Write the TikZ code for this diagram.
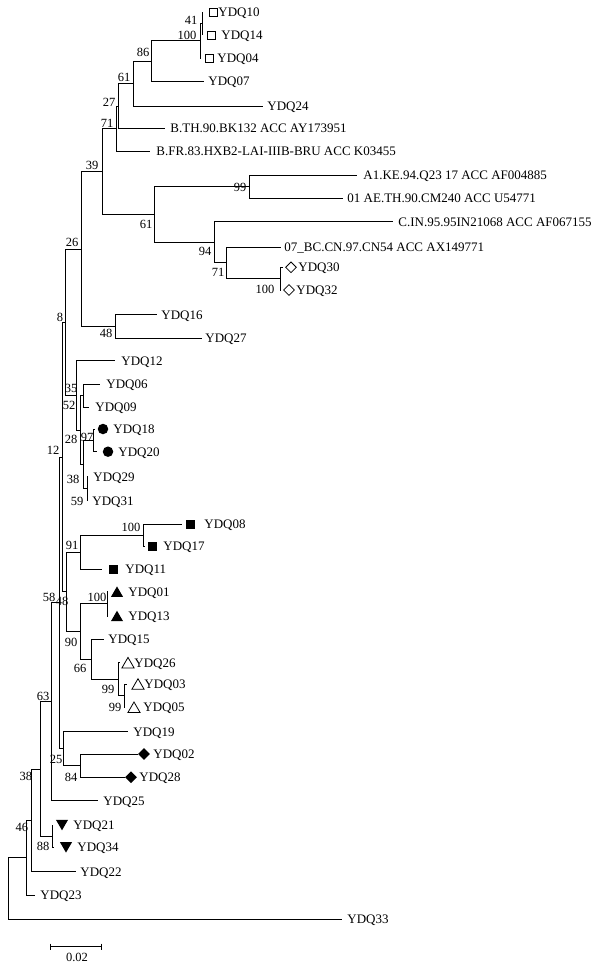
\documentclass[tikz,border=0pt]{standalone}
\usepackage{fontspec}
\setmainfont{Liberation Serif}
\usetikzlibrary{shapes.geometric}
\begin{document}
\begin{tikzpicture}[x=1pt,y=-1pt,line width=0.9pt,
  lab/.style={anchor=west,inner sep=0pt,text height=8.6pt,text depth=0pt,font=\fontsize{13}{13}\selectfont},
  bs/.style={inner sep=0pt,text height=8.4pt,text depth=0pt,font=\fontsize{12.5}{12.5}\selectfont},
  osq/.style={draw,rectangle,minimum size=8pt,inner sep=0pt,line width=0.8pt},
  fsq/.style={fill,rectangle,minimum size=9pt,inner sep=0pt},
  fcirc/.style={fill,circle,minimum size=10.5pt,inner sep=0pt},
  ftri/.style={fill,regular polygon,regular polygon sides=3,minimum size=14pt,inner sep=0pt,yshift=-1.7pt},
  otri/.style={draw,regular polygon,regular polygon sides=3,minimum size=14pt,inner sep=0pt,line width=0.8pt,yshift=-1.7pt},
  dtri/.style={fill,regular polygon,regular polygon sides=3,shape border rotate=180,minimum size=14pt,inner sep=0pt,yshift=1.7pt},
  fdia/.style={fill,diamond,minimum size=12pt,inner sep=0pt},
  odia/.style={draw,diamond,minimum size=11pt,inner sep=0pt,line width=0.8pt}]
\useasboundingbox (0,0) rectangle (603,966);
\fill[white] (0,0) rectangle (603,966);
% leaves: name / y / branch end / text x / text
\foreach \n/\y/\e/\t/\s in {
 YDQ10/12/203/218/YDQ10, YDQ14/35/202/221/YDQ14, YDQ04/58.3/201/217/YDQ04,
 YDQ07/81.5/204/208/YDQ07, YDQ24/106/263/267/YDQ24,
 BTH/128.3/165/170/B.TH.90.BK132 ACC AY173951,
 BFR/151.5/150/156/B.FR.83.HXB2-LAI-IIIB-BRU ACC K03455,
 AONE/175.5/357/363/A1.KE.94.Q23 17 ACC AF004885,
 AE/198.3/343/347/01 AE.TH.90.CM240 ACC U54771,
 CIN/221.7/393/398/C.IN.95.95IN21068 ACC AF067155,
 BC/247/281/284/07\_BC.CN.97.CN54 ACC AX149771,
 YDQ30/267.3/283/298/YDQ30, YDQ32/290/281/296/YDQ32,
 YDQ16/314.7/157/161/YDQ16, YDQ27/338.3/202/205/YDQ27,
 YDQ12/360.7/115/121/YDQ12, YDQ06/384/100/106/YDQ06, YDQ09/407/89/95/YDQ09,
 YDQ18/429/95/113/YDQ18, YDQ20/451.7/97/118/YDQ20,
 YDQ29/476.7/88/93/YDQ29, YDQ31/500.7/88/92/YDQ31,
 YDQ08/524/182/204/YDQ08, YDQ17/546/145/163/YDQ17, YDQ11/569/102/125/YDQ11,
 YDQ01/591.7/108/128/YDQ01, YDQ13/616/108/128/YDQ13, YDQ15/639.3/104/108/YDQ15,
 YDQ26/662.7/120/134/YDQ26, YDQ03/684/127/144/YDQ03, YDQ05/707.3/125/143/YDQ05,
 YDQ19/731.7/128/133/YDQ19, YDQ02/754/138/153/YDQ02, YDQ28/777.3/125/139/YDQ28,
 YDQ25/800.7/98/103/YDQ25, YDQ21/825/53/73/YDQ21, YDQ34/847.3/54/77/YDQ34,
 YDQ22/871.7/76/80/YDQ22, YDQ23/895/35/40/YDQ23, YDQ33/919/342/347/YDQ33}
 {\coordinate (L\n) at (\e,\y);
  \node[lab] (T\n) at (\t,\y) {\s};}
% markers
\foreach \n/\x/\y/\st in {
 YDQ10/213/12/osq, YDQ14/211/35/osq, YDQ04/209/58.3/osq,
 YDQ30/291/267.3/odia, YDQ32/289/290/odia,
 YDQ18/103/429/fcirc, YDQ20/108/451.7/fcirc,
 YDQ08/190/524/fsq, YDQ17/152/546/fsq, YDQ11/113/569/fsq,
 YDQ01/117/591.7/ftri, YDQ13/117/616/ftri,
 YDQ26/128/662.7/otri, YDQ03/138/684/otri, YDQ05/134/707.3/otri,
 YDQ02/144/754/fdia, YDQ28/131/777.3/fdia,
 YDQ21/62/825/dtri, YDQ34/66/847.3/dtri}
 {\node[\st] (M\n) at (\x,\y) {};}
% internal nodes
\coordinate (n41) at (202,23.5);
\coordinate (n100t) at (200,40.9);
\coordinate (n86) at (151,61.2);
\coordinate (n61u) at (133,83.6);
\coordinate (n27) at (118,106);
\coordinate (n71) at (116,128.7);
\coordinate (n99) at (249,186.9);
\coordinate (n100d) at (280,278.65);
\coordinate (n71l) at (226,262.8);
\coordinate (n94) at (214,242.3);
\coordinate (n61l) at (154,214.6);
\coordinate (n39) at (102,171.7);
\coordinate (n48t) at (115,326.5);
\coordinate (n26) at (81,249.1);
\coordinate (nA) at (83,395.5);
\coordinate (nB) at (93,440.35);
\coordinate (nC) at (87,488.7);
\coordinate (nD) at (83,464.5);
\coordinate (nE) at (80,430);
\coordinate (nF) at (76,395.35);
\coordinate (n8) at (65,322.2);
\coordinate (n100e) at (143,535);
\coordinate (n91) at (80,552);
\coordinate (n100b) at (107,603.85);
\coordinate (n99b) at (124,695.65);
\coordinate (n99a) at (118,679.2);
\coordinate (n66) at (91,659.25);
\coordinate (n90) at (80,631.55);
\coordinate (n48) at (66,591.8);
\coordinate (n12) at (62,457);
\coordinate (n84) at (80,765.65);
\coordinate (n25) at (63,748.7);
\coordinate (n58) at (59,602.85);
\coordinate (n63) at (51,701.8);
\coordinate (n88) at (52,836.15);
\coordinate (n38) at (40,769);
\coordinate (n46) at (31,820.3);
\coordinate (nN1) at (26,857.7);
\coordinate (nroot) at (8,888.3);
% branches
\foreach \p/\a/\b in {n41/LYDQ10/LYDQ14, n100t/n41/LYDQ04, n86/n100t/LYDQ07,
 n61u/n86/LYDQ24, n27/n61u/LBTH, n71/n27/LBFR, n99/LAONE/LAE,
 n100d/LYDQ30/LYDQ32, n71l/LBC/n100d, n94/LCIN/n71l, n61l/n99/n94,
 n39/n71/n61l, n48t/LYDQ16/LYDQ27, n26/n39/n48t,
 nA/LYDQ06/LYDQ09, nB/LYDQ18/LYDQ20, nC/LYDQ29/LYDQ31, nD/nB/nC,
 nE/nA/nD, nF/LYDQ12/nE, n8/n26/nF,
 n100e/LYDQ08/LYDQ17, n91/n100e/LYDQ11, n100b/LYDQ01/LYDQ13,
 n99b/LYDQ03/LYDQ05, n99a/LYDQ26/n99b, n66/LYDQ15/n99a, n90/n100b/n66,
 n48/n91/n90, n12/n8/n48, n84/LYDQ02/LYDQ28, n25/LYDQ19/n84,
 n58/n12/n25, n63/n58/LYDQ25, n88/LYDQ21/LYDQ34, n38/n63/n88,
 n46/n38/LYDQ22, nN1/n46/LYDQ23, nroot/nN1/LYDQ33}
 {\draw (\p) |- (\a); \draw (\p) |- (\b);}
% bootstrap values
\foreach \n/\x/\y/\v in {
 b41/191/20/41, b100t/187/35/100, b86/143/52/86, b61u/124/77/61, b27/109/102/27,
 b71/107/123/71, b39/92/165/39, b99/240/187/99, b61l/146/224/61, b94/205/251/94,
 b71l/218/272/71, b100d/265/289/100, b26/72/242/26, b8/60/317/8, b48t/106/333/48,
 b35/71/388/35, b52/69/405/52, b28/71/439/28, b97/87/437/97, b12/53/450/12,
 b38/73/479/38, b59/77/501/59, b100e/131/527/100, b91/72/545/91, b58/49/597/58,
 b48/62/601/48, b100b/97/597/100, b90/71/642/90, b66/80/668/66, b99a/108/689/99,
 b99b/115/707/99, b63/43/696/63, b25/56/759/25, b84/71/777/84, b38b/26/776/38,
 b46/22/827/46, b88/43/846/88}
 {\node[bs] (\n) at (\x,\y) {\v};}
% scale bar
\coordinate (sL) at (50,946.7);
\coordinate (sR) at (101,946.7);
\draw (sL) -- (sR);
\draw ([yshift=3pt]sL) -- ([yshift=-3pt]sL);
\draw ([yshift=3pt]sR) -- ([yshift=-3pt]sR);
\node[bs] (scale) at (77,957) {0.02};
\end{tikzpicture}
\end{document}
